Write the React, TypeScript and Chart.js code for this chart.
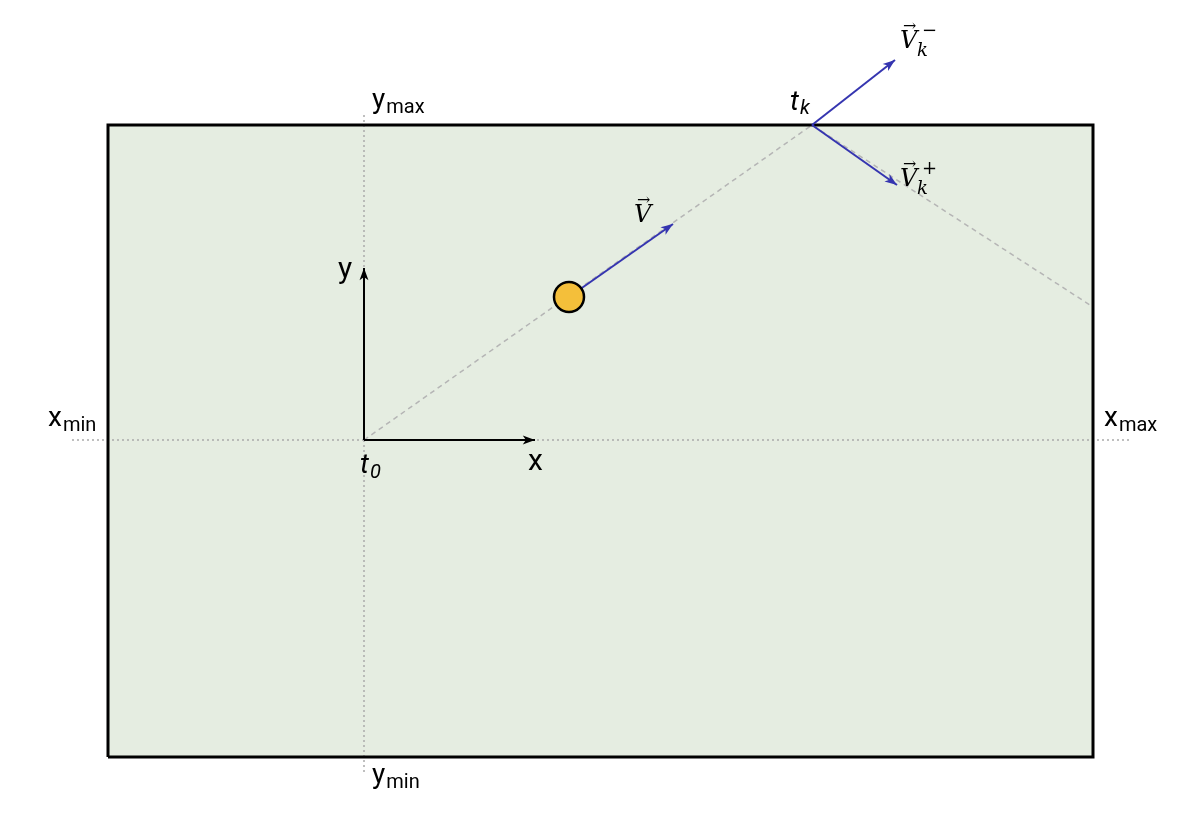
import { useRef, useEffect } from 'react'
import { Chart, registerables } from 'chart.js'

Chart.register(...registerables)

// diagram coordinates: origin at t0, y up
const boxX = [-256, 729, 729, -256, -256]
const boxY = [-317, -317, 315, 315, -317]
const hGuideX = [-292, 766]
const vGuideY = [325, -335]
const pathX = [0, 448, 726]
const pathY = [0, 315, 135]
const ball = { x: 205, y: 143 }
const vArrow = [205, 143, 309, 216]
const vkMinus = [448, 315, 531, 380]
const vkPlus = [448, 315, 533, 255]
const xAxis = [0, 0, 171, 0]
const yAxis = [0, 0, 0, 172]

const seg = (a: number[]) => [{ x: a[0], y: a[1] }, { x: a[2], y: a[3] }]

const boxFillPlugin = {
  id: 'boxFill',
  beforeDatasetsDraw(chart: any) {
    const { ctx, scales } = chart
    ctx.save()
    ctx.fillStyle = '#e5ede1'
    ctx.beginPath()
    boxX.forEach((x, i) => {
      const X = scales.x.getPixelForValue(x), Y = scales.y.getPixelForValue(boxY[i])
      if (i === 0) ctx.moveTo(X, Y)
      else ctx.lineTo(X, Y)
    })
    ctx.closePath()
    ctx.fill()
    ctx.restore()
  },
}

const arrowPlugin = {
  id: 'arrows',
  afterDatasetsDraw(chart: any) {
    const { ctx, scales } = chart
    const px = (x: number) => scales.x.getPixelForValue(x)
    const py = (y: number) => scales.y.getPixelForValue(y)
    const head = (a: number[], color: string, len: number) => {
      const x1 = px(a[0]), y1 = py(a[1]), x2 = px(a[2]), y2 = py(a[3])
      const ang = Math.atan2(y2 - y1, x2 - x1)
      ctx.save()
      ctx.fillStyle = color
      ctx.beginPath()
      ctx.moveTo(x2, y2)
      ctx.lineTo(x2 - len * Math.cos(ang - 0.35), y2 - len * Math.sin(ang - 0.35))
      ctx.lineTo(x2 - len * 0.7 * Math.cos(ang), y2 - len * 0.7 * Math.sin(ang))
      ctx.lineTo(x2 - len * Math.cos(ang + 0.35), y2 - len * Math.sin(ang + 0.35))
      ctx.closePath()
      ctx.fill()
      ctx.restore()
    }
    head(vArrow, '#3535b0', 13)
    head(vkMinus, '#3535b0', 13)
    head(vkPlus, '#3535b0', 13)
    head(xAxis, '#000', 13)
    head(yAxis, '#000', 13)

    const sans = (t: string, x: number, y: number, size: number, style = '') => {
      ctx.font = `${style} ${size}px Roboto, "DejaVu Sans", sans-serif`
      ctx.fillText(t, x, y)
      return ctx.measureText(t).width
    }
    ctx.save()
    ctx.fillStyle = '#000'
    ctx.textBaseline = 'alphabetic'
    const sub = (main: string, s: string, x: number, y: number) => {
      const w = sans(main, px(x), py(y), 28)
      sans(s, px(x) + w + 1, py(y) + 5, 20)
    }
    sub('y', 'max', 8, 332)
    sub('y', 'min', 8, -343)
    sub('x', 'min', -316, 14)
    sub('x', 'max', 740, 14)
    sans('x', px(164), py(-30), 30)
    sans('y', px(-26), py(162), 30)
    const w0 = sans('t', px(-4), py(-33), 28, 'italic')
    sans('0', px(-4) + w0 + 1, py(-38), 20, 'italic')
    const wk = sans('t', px(426), py(330), 28, 'italic')
    sans('k', px(426) + wk + 1, py(326), 20, 'italic')

    const vec = (x: number, y: number, sup: string, subk: boolean) => {
      ctx.font = 'italic 24px "DejaVu Serif", serif'
      const X = px(x), Y = py(y)
      ctx.fillText('V', X, Y)
      ctx.font = '16px "DejaVu Serif", serif'
      ctx.fillText('\u2192', X + 3, Y - 17)
      if (subk) {
        ctx.font = 'italic 18px "DejaVu Serif", serif'
        ctx.fillText('k', X + 17, Y + 8)
        ctx.font = '18px "DejaVu Serif", serif'
        ctx.fillText(sup, X + 22, Y - 12)
      }
    }
    vec(270, 218, '', false)
    vec(536, 392, '\u2212', true)
    vec(536, 254, '+', true)
    ctx.restore()
  },
}

export default function App() {
  const canvasRef = useRef<HTMLCanvasElement>(null)

  useEffect(() => {
    document.body.style.margin = '0'
    if (!canvasRef.current) return
    const line = (pts: any[], color: string, width: number, dash: number[] = []) => ({
      type: 'line' as const,
      data: pts,
      borderColor: color,
      borderWidth: width,
      borderDash: dash,
      pointRadius: 0,
      fill: false,
      showLine: true,
    })
    // first dataset is drawn on top
    const chart = new Chart(canvasRef.current, {
      type: 'scatter',
      data: {
        datasets: [
          {
            type: 'scatter',
            data: [ball],
            pointRadius: 15,
            pointBackgroundColor: '#f4bf3a',
            pointBorderColor: '#000',
            pointBorderWidth: 2.5,
          } as any,
          line(seg(vArrow), '#3535b0', 2),
          line(seg(vkMinus), '#3535b0', 2),
          line(seg(vkPlus), '#3535b0', 2),
          line(seg(xAxis), '#000', 2),
          line(seg(yAxis), '#000', 2),
          line(boxX.map((x, i) => ({ x, y: boxY[i] })), '#000', 3),
          line(pathX.map((x, i) => ({ x, y: pathY[i] })), '#b5b5b5', 1.5, [5, 4]),
          line([{ x: hGuideX[0], y: 0 }, { x: hGuideX[1], y: 0 }], '#aaa', 1.5, [2, 3]),
          line([{ x: 0, y: vGuideY[0] }, { x: 0, y: vGuideY[1] }], '#aaa', 1.5, [2, 3]),
        ],
      },
      options: {
        animation: false,
        responsive: false,
        devicePixelRatio: 1,
        layout: { padding: 0, autoPadding: false },
        plugins: { legend: { display: false }, tooltip: { enabled: false } },
        scales: {
          x: { type: 'linear', min: -364, max: 836, display: false },
          y: { type: 'linear', min: -395, max: 440, display: false },
        },
      },
      plugins: [boxFillPlugin, arrowPlugin],
    })
    return () => { chart.destroy() }
  }, [])

  return (
    <div style={{ width: 1200, height: 835, background: '#fff' }}>
      <canvas ref={canvasRef} width={1200} height={835} />
    </div>
  )
}
